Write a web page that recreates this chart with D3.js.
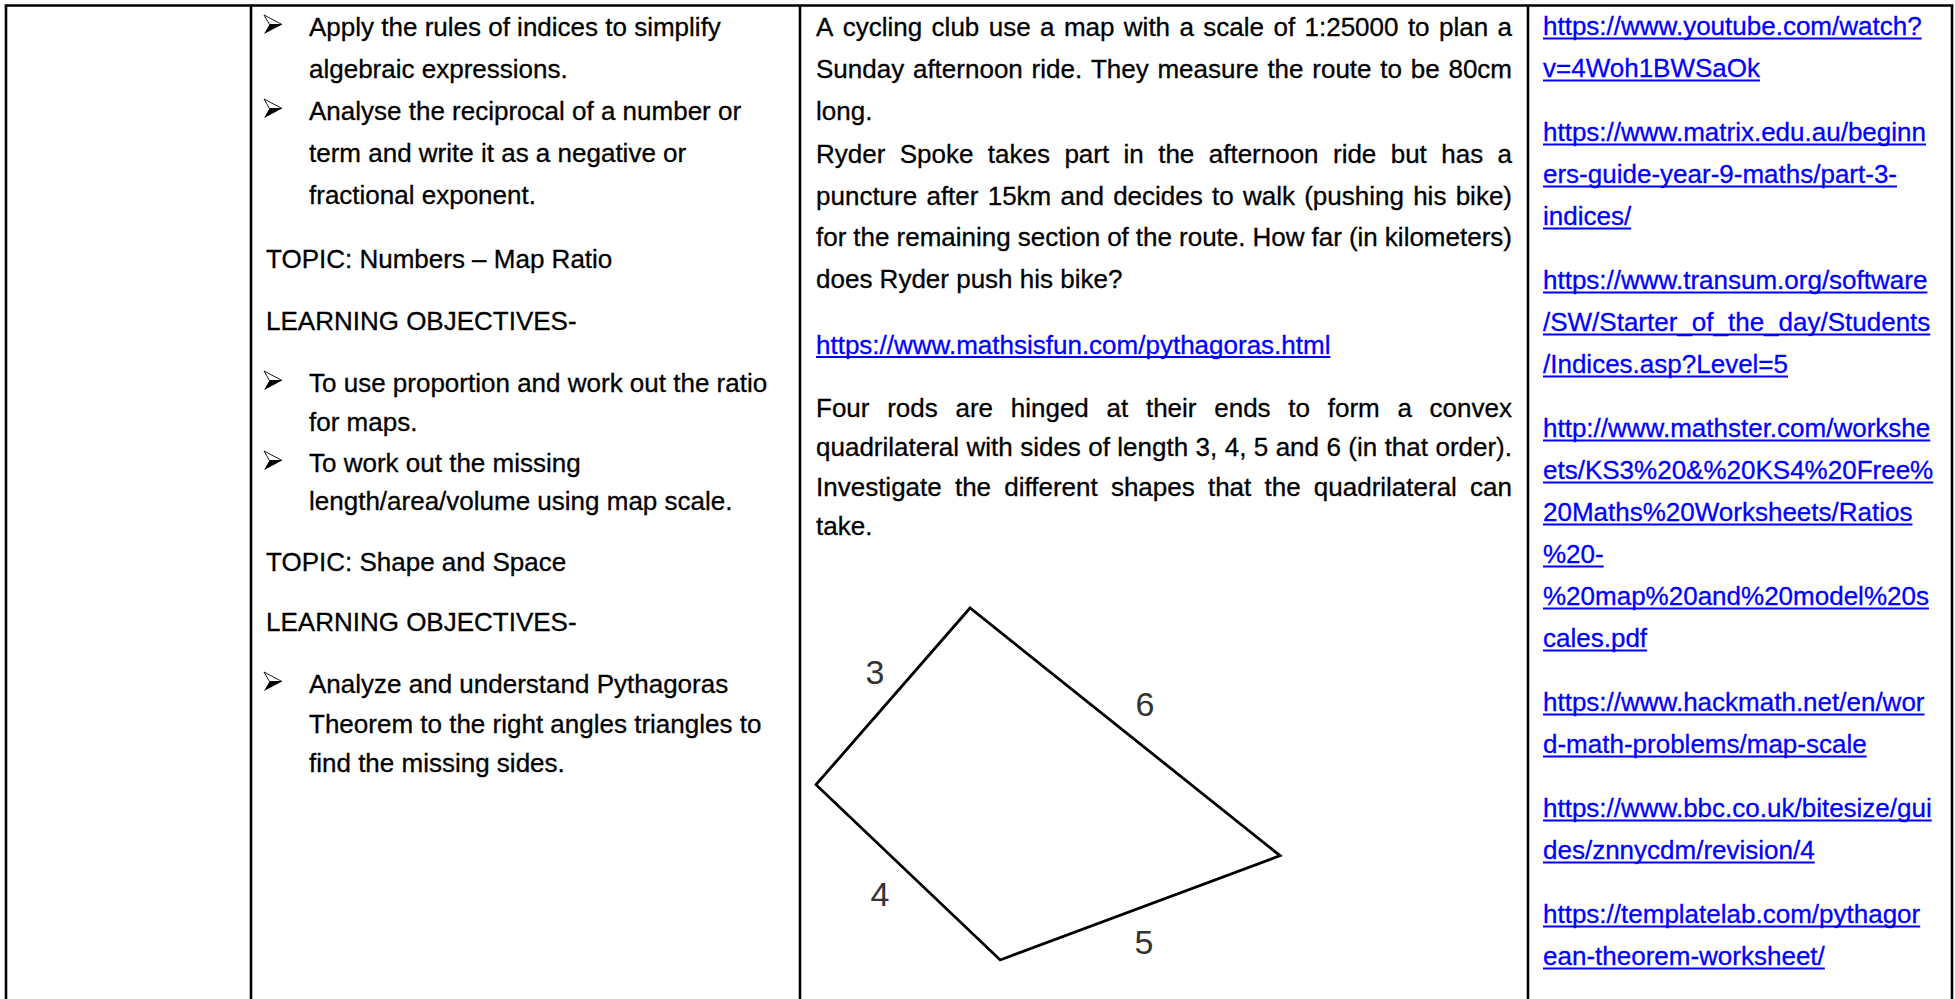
<!DOCTYPE html>
<html>
<head>
<meta charset="utf-8">
<script src="https://cdn.jsdelivr.net/npm/d3@7"></script>
<style>
  html, body { margin: 0; padding: 0; background: #fff; overflow: hidden; }
  svg { display: block; }
  text { font-family: "Liberation Sans", Arial, Helvetica, sans-serif; }
</style>
</head>
<body>
<svg id="page"></svg>
<script>
// ---- content -------------------------------------------------------------
const objectives = [
  { kind: 'bullet', lines: ['Apply the rules of indices to simplify', 'algebraic expressions.'] },
  { kind: 'bullet', lines: ['Analyse the reciprocal of a number or', 'term and write it as a negative or', 'fractional exponent.'] },
  { kind: 'plain', lines: ['TOPIC: Numbers – Map Ratio'] },
  { kind: 'plain', lines: ['LEARNING OBJECTIVES-'] },
  { kind: 'bullet', lines: ['To use proportion and work out the ratio', 'for maps.'] },
  { kind: 'bullet', lines: ['To work out the missing', 'length/area/volume using map scale.'] },
  { kind: 'plain', lines: ['TOPIC: Shape and Space'] },
  { kind: 'plain', lines: ['LEARNING OBJECTIVES-'] },
  { kind: 'bullet', lines: ['Analyze and understand Pythagoras', 'Theorem to the right angles triangles to', 'find the missing sides.'] }
];

const tasks = [
  { kind: 'para', lines: ['A cycling club use a map with a scale of 1:25000 to plan a', 'Sunday afternoon ride. They measure the route to be 80cm', 'long.'] },
  { kind: 'para', lines: ['Ryder Spoke takes part in the afternoon ride but has a', 'puncture after 15km and decides to walk (pushing his bike)', 'for the remaining section of the route. How far (in kilometers)', 'does Ryder push his bike?'] },
  { kind: 'link', lines: ['https://www.mathsisfun.com/pythagoras.html'] },
  { kind: 'para', lines: ['Four rods are hinged at their ends to form a convex', 'quadrilateral with sides of length 3, 4, 5 and 6 (in that order).', 'Investigate the different shapes that the quadrilateral can', 'take.'] }
];

const resources = [
  ['https://www.youtube.com/watch?', 'v=4Woh1BWSaOk'],
  ['https://www.matrix.edu.au/beginn', 'ers-guide-year-9-maths/part-3-', 'indices/'],
  ['https://www.transum.org/software', '/SW/Starter_of_the_day/Students', '/Indices.asp?Level=5'],
  ['http://www.mathster.com/workshe', 'ets/KS3%20&%20KS4%20Free%', '20Maths%20Worksheets/Ratios', '%20-', '%20map%20and%20model%20s', 'cales.pdf'],
  ['https://www.hackmath.net/en/wor', 'd-math-problems/map-scale'],
  ['https://www.bbc.co.uk/bitesize/gui', 'des/znnycdm/revision/4'],
  ['https://templatelab.com/pythagor', 'ean-theorem-worksheet/']
];

// quadrilateral in figure units, sides labelled 3, 4, 5, 6
const quadCorners = [[3.32, 0], [0, 3.81], [3.97, 7.59], [10, 5.34]];
const sideLabels = ['3', '4', '5', '6'];
const labelSpots = [[1.27, 1.38], [1.38, 6.16], [7.07, 7.20], [7.09, 2.07]];

// ---- layout ----------------------------------------------------------------
const W = 1955, H = 999;
const FS = 26;
const colX = [6, 251, 800, 1528, 1952];
const topY = 5.5;
const BLUE = '#0000ff';

const svg = d3.select('#page').attr('width', W).attr('height', H);
const tmp = svg.append('text').attr('font-size', FS).attr('x', -9999).attr('y', -9999);
const measure = s => { tmp.text(s); return tmp.node().getComputedTextLength(); };

function line(g, str, x, y, opt = {}) {
  const color = opt.color || '#000';
  const t = g.append('text').attr('y', y).attr('font-size', FS).attr('fill', color)
    .attr('stroke', color).attr('stroke-width', 0.3);
  if (opt.width && str.includes(' ')) {
    const words = str.split(' ');
    const ws = words.map(measure);
    const gap = (opt.width - d3.sum(ws)) / (words.length - 1);
    let cx = x;
    words.forEach((w, i) => { t.append('tspan').attr('x', cx).text(w); cx += ws[i] + gap; });
  } else {
    t.attr('x', x).text(str);
  }
  if (opt.underline) {
    g.append('line').attr('x1', x).attr('x2', x + measure(str))
      .attr('y1', y + 3.6).attr('y2', y + 3.6)
      .attr('stroke', color).attr('stroke-width', 2);
  }
}

function bullet(g, x, y) {
  const b = g.append('g').attr('transform', `translate(${x},${y - 21})`);
  b.append('path').attr('d', 'M0,0 L18,9.5 L5.5,9.5 Z')
    .attr('fill', '#fff').attr('stroke', '#000').attr('stroke-width', 0.9).attr('stroke-linejoin', 'round');
  b.append('path').attr('d', 'M5.5,9.5 L18,9.5 L0,19 Z').attr('fill', '#000');
}

// ---- column 2: objectives ---------------------------------------------------
const objStart = 36;
const objGap = [0, 42, 64, 62, 62, 41, 61, 60, 62];
const objLh = [42, 42, 42, 42, 39, 38, 42, 42, 39.5];
const g2 = svg.append('g');
let y = objStart;
objectives.forEach((p, i) => {
  if (i) y += objGap[i];
  p.lines.forEach((s, j) => {
    if (j) y += objLh[i];
    if (p.kind === 'bullet') {
      if (j === 0) bullet(g2, 264, y);
      line(g2, s, 309, y);
    } else {
      line(g2, s, 266, y);
    }
  });
});

// ---- column 3: tasks ---------------------------------------------------------
const taskX = 816, taskW = 696;
const taskGap = [0, 43, 66, 63];
const taskLh = [42, 41.5, 42, 39.5];
const g3 = svg.append('g');
y = 36;
tasks.forEach((p, i) => {
  if (i) y += taskGap[i];
  p.lines.forEach((s, j) => {
    if (j) y += taskLh[i];
    if (p.kind === 'link') line(g3, s, taskX, y, { color: BLUE, underline: true });
    else line(g3, s, taskX, y, { width: j < p.lines.length - 1 ? taskW : 0 });
  });
});

// quadrilateral figure
const fx = d3.scaleLinear().domain([0, 10]).range([816, 1280]);
const fy = d3.scaleLinear().domain([0, 7.59]).range([608, 960]);
g3.append('path')
  .attr('d', d3.line().x(d => fx(d[0])).y(d => fy(d[1])).curve(d3.curveLinearClosed)(quadCorners))
  .attr('fill', 'none').attr('stroke', '#000').attr('stroke-width', 2.8).attr('stroke-linejoin', 'miter');
g3.selectAll('text.side').data(sideLabels).join('text').attr('class', 'side')
  .attr('x', (d, i) => fx(labelSpots[i][0])).attr('y', (d, i) => fy(labelSpots[i][1]))
  .attr('dy', '0.36em').attr('text-anchor', 'middle')
  .attr('font-size', 34).attr('fill', '#333').text(d => d);

// ---- column 4: resources -------------------------------------------------------
const g4 = svg.append('g');
y = 35;
resources.forEach((lines, i) => {
  if (i) y += 64;
  lines.forEach((s, j) => {
    if (j) y += 42;
    line(g4, s, 1543, y, { color: BLUE, underline: true });
  });
});

tmp.remove();

// ---- table rules ---------------------------------------------------------------
const rules = svg.append('g').attr('stroke', '#000').attr('stroke-width', 2.6);
rules.append('line').attr('x1', colX[0] - 1.3).attr('x2', colX[4] + 1.3).attr('y1', topY).attr('y2', topY);
rules.selectAll('line.v').data(colX).join('line').attr('class', 'v')
  .attr('x1', d => d).attr('x2', d => d).attr('y1', topY).attr('y2', H);
</script>
</body>
</html>
